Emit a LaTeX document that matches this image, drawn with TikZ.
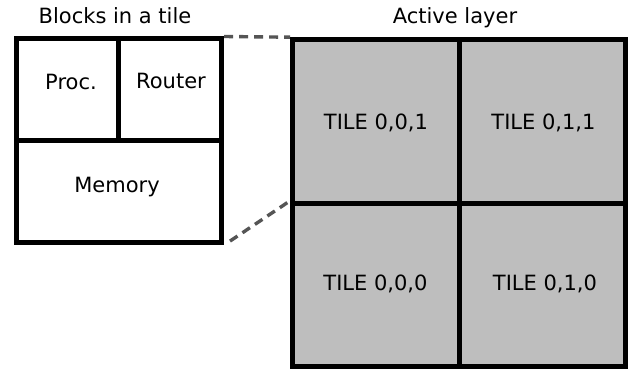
\documentclass[tikz,border=0pt]{standalone}
\usepackage{fontspec}
\setmainfont{DejaVu Sans}
\definecolor{tilegray}{HTML}{BEBEBE}
\definecolor{dashgray}{HTML}{555555}
\tikzset{
  cell/.style={draw=black,line width=5pt,inner sep=0pt},
  tilecell/.style={cell,fill=tilegray,minimum height=163.6pt},
  title/.style={inner sep=0pt,font=\fontsize{21}{25}\selectfont,text=black},
  zoomline/.style={draw=dashgray,line width=3.4pt,dash pattern=on 9pt off 6pt}
}
\begin{document}
\begin{tikzpicture}[x=1pt,y=-1pt]
\useasboundingbox (0,0) rectangle (632,371);
\node[cell,minimum width=102.5pt,minimum height=101.7pt] (proc) at (67.25,89.85) {};
\node[cell,minimum width=103.2pt,minimum height=101.7pt] (router) at (170.1,89.85) {};
\node[cell,minimum width=205.7pt,minimum height=101.8pt] (memory) at (118.85,191.6) {};
\node[tilecell,minimum width=166.5pt] (t001) at (375.75,121.5) {};
\node[tilecell,minimum width=166pt] (t011) at (542,121.5) {};
\node[tilecell,minimum width=166.5pt] (t000) at (375.75,285.15) {};
\node[tilecell,minimum width=166pt] (t010) at (542,285.15) {};
\node[title,anchor=base] (lproc) at (71,90) {Proc.};
\node[title,anchor=base] (lrouter) at (171,89) {Router};
\node[title,anchor=base] (lmemory) at (117,193) {Memory};
\node[title,anchor=base] (l001) at (376,130) {TILE 0,0,1};
\node[title,anchor=base] (l011) at (543.5,130) {TILE 0,1,1};
\node[title,anchor=base] (l000) at (375.5,291) {TILE 0,0,0};
\node[title,anchor=base] (l010) at (545,291) {TILE 0,1,0};
\node[title,anchor=base] (ttile) at (115,24) {Blocks in a tile};
\node[title,anchor=base] (tlayer) at (455,24) {Active layer};
\draw[zoomline] (router.north east) -- (t001.north west);
\draw[zoomline,shorten <=7pt] (memory.south east) -- (t000.north west);
\end{tikzpicture}
\end{document}
